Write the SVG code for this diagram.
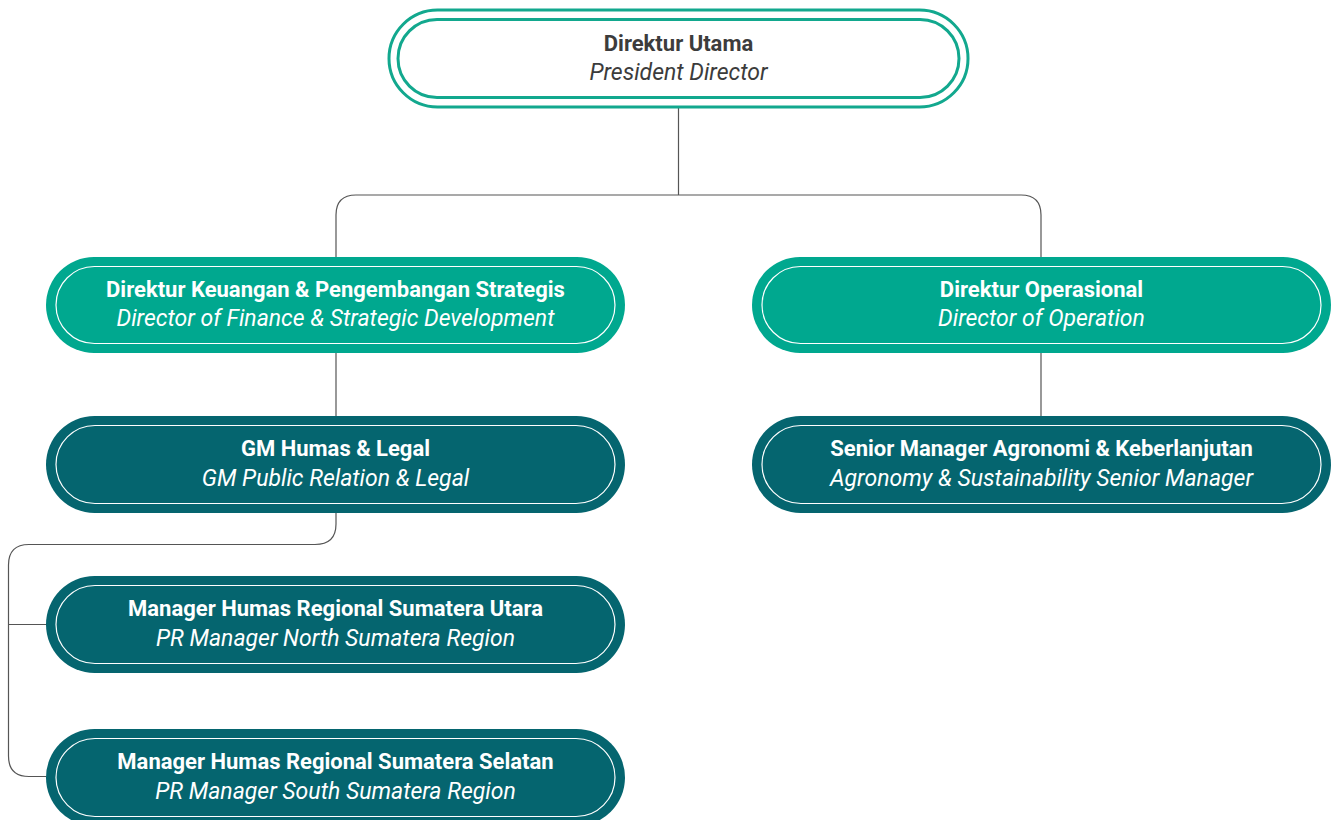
<svg xmlns="http://www.w3.org/2000/svg" width="1332" height="820" viewBox="0 0 1332 820">
<style>
.t{font-family:Roboto,"Liberation Sans",sans-serif;text-anchor:middle}
.b{font-weight:bold;font-size:22px}
.i{font-style:italic;font-size:23px}
.w{fill:#ffffff}
.k{fill:#3c3c3c}
.g{fill:#00a88f}
.d{fill:#05656f}
.in{fill:none;stroke:#ffffff;stroke-width:1.2}
.c{fill:none;stroke:#555555;stroke-width:1.2}
</style>
<rect width="1332" height="820" fill="#ffffff"/>
<g id="connectors">
<path class="c" d="M678.5 107 V195 M336 257 V215 Q336 195 356 195 H1021 Q1041 195 1041 215 V257"/>
<path class="c" d="M336 353 V416 M1041 353 V416"/>
<path class="c" d="M336 513 V524 Q336 544.5 315 544.5 H29 Q8.5 544.5 8.5 565 V756 Q8.5 776.5 29 776.5 H46 M8.5 624.5 H46"/>
</g>
<g id="n-direktur-utama">
<rect x="389" y="10" width="579" height="97" rx="48.5" fill="#ffffff" stroke="#12a88e" stroke-width="3"/>
<rect x="398" y="19.5" width="561" height="78" rx="39" fill="none" stroke="#12a88e" stroke-width="3"/>
<text class="t b k" x="678.5" y="51">Direktur Utama</text>
<text class="t i k" x="678.5" y="80">President Director</text>
</g>
<g id="n-dir-keuangan">
<rect class="g" x="46" y="257" width="579" height="96" rx="48"/>
<rect class="in" x="56" y="266.5" width="559" height="77" rx="38.5"/>
<text class="t b w" x="335.5" y="296.5">Direktur Keuangan &amp; Pengembangan Strategis</text>
<text class="t i w" x="335.5" y="326">Director of Finance &amp; Strategic Development</text>
</g>
<g id="n-dir-operasional">
<rect class="g" x="752" y="257" width="579" height="96" rx="48"/>
<rect class="in" x="762" y="266.5" width="559" height="77" rx="38.5"/>
<text class="t b w" x="1041.5" y="296.5">Direktur Operasional</text>
<text class="t i w" x="1041.5" y="326">Director of Operation</text>
</g>
<g id="n-gm-humas">
<rect class="d" x="46" y="416" width="579" height="97" rx="48.5"/>
<rect class="in" x="56" y="425.5" width="559" height="78" rx="39"/>
<text class="t b w" x="335.5" y="456">GM Humas &amp; Legal</text>
<text class="t i w" x="335.5" y="485.5">GM Public Relation &amp; Legal</text>
</g>
<g id="n-senior-manager">
<rect class="d" x="752" y="416" width="579" height="97" rx="48.5"/>
<rect class="in" x="762" y="425.5" width="559" height="78" rx="39"/>
<text class="t b w" x="1041.5" y="456">Senior Manager Agronomi &amp; Keberlanjutan</text>
<text class="t i w" x="1041.5" y="485.5">Agronomy &amp; Sustainability Senior Manager</text>
</g>
<g id="n-manager-utara">
<rect class="d" x="46" y="576" width="579" height="97" rx="48.5"/>
<rect class="in" x="56" y="585.5" width="559" height="78" rx="39"/>
<text class="t b w" x="335.5" y="616">Manager Humas Regional Sumatera Utara</text>
<text class="t i w" x="335.5" y="645.5">PR Manager North Sumatera Region</text>
</g>
<g id="n-manager-selatan">
<rect class="d" x="46" y="729" width="579" height="97" rx="48.5"/>
<rect class="in" x="56" y="738.5" width="559" height="78" rx="39"/>
<text class="t b w" x="335.5" y="769">Manager Humas Regional Sumatera Selatan</text>
<text class="t i w" x="335.5" y="798.5">PR Manager South Sumatera Region</text>
</g>
</svg>
